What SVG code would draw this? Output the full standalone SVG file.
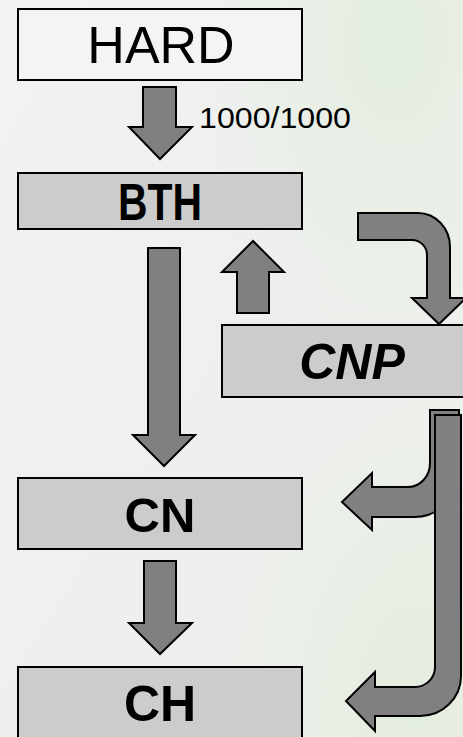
<svg xmlns="http://www.w3.org/2000/svg" width="463" height="737" viewBox="0 0 463 737">
<defs>
<linearGradient id="bg" x1="0" y1="0" x2="1" y2="1">
<stop offset="0" stop-color="#f2f2f2"/>
<stop offset="0.5" stop-color="#eeefee"/>
<stop offset="1" stop-color="#eef1eb"/>
</linearGradient>
<radialGradient id="g1" cx="0.85" cy="0.05" r="0.45">
<stop offset="0" stop-color="#e3eedf" stop-opacity="0.9"/>
<stop offset="1" stop-color="#e3eedf" stop-opacity="0"/>
</radialGradient>
<radialGradient id="g2" cx="0.9" cy="0.95" r="0.4">
<stop offset="0" stop-color="#e2eddd" stop-opacity="0.9"/>
<stop offset="1" stop-color="#e2eddd" stop-opacity="0"/>
</radialGradient>
<style>
.box{stroke:#000;stroke-width:2}
.light{fill:#f4f4f4}
.grey{fill:#cccccc}
.arr{fill:#808080;stroke:#000;stroke-width:2;stroke-linejoin:miter}
.t{font-family:"Liberation Sans",Arial,sans-serif;fill:#000;text-anchor:middle}
</style>
</defs>
<rect width="463" height="737" fill="url(#bg)"/>
<rect width="463" height="737" fill="url(#g1)"/>
<rect width="463" height="737" fill="url(#g2)"/>

<g id="connectors">
<polygon class="arr" points="143,87 176,87 176,127 192,127 160,159 129,127 143,127"/>
<text class="t" x="199" y="128" font-size="29" style="text-anchor:start" textLength="152" lengthAdjust="spacingAndGlyphs">1000/1000</text>
<polygon class="arr" points="148,248 180,248 180,435 195,435 164,466 133,435 148,435"/>
<polygon class="arr" points="144,561 176,561 176,623 192,623 160,654 129,623 144,623"/>
<polygon class="arr" points="237,313 269,313 269,272 284,272 253,241 222,272 237,272"/>
<path class="arr" d="M358,213 H418 A32,34 0 0 1 450,247 V298 H466 L439,324 L412,298 H427 V255 A15,15 0 0 0 412,240 H358 Z"/>
<path class="arr" d="M430,410 H459 V472 A45,45 0 0 1 414,517 H372 V530 L342,502 L372,473 V487 H408 A22,24 0 0 0 430,463 Z"/>
<path class="arr" d="M435,415 H461 V676 A41,40 0 0 1 420,716 H375 V731 L346,701 L375,672 V687 H415 A20,20 0 0 0 435,667 Z"/>
</g>

<g id="hard">
<rect class="box light" x="18" y="9" width="284" height="71"/>
<text class="t" x="161" y="63" font-size="52">HARD</text>
</g>
<g id="bth">
<rect class="box grey" x="18" y="173" width="284" height="56"/>
<text class="t" x="160" y="220" font-size="52" font-weight="bold" textLength="84" lengthAdjust="spacingAndGlyphs">BTH</text>
</g>
<g id="cnp">
<rect class="box grey" x="222" y="325" width="250" height="72"/>
<text class="t" x="352" y="379" font-size="50" font-weight="bold" font-style="italic">CNP</text>
</g>
<g id="cn">
<rect class="box grey" x="18" y="478" width="284" height="71"/>
<text class="t" x="160" y="532" font-size="49" font-weight="bold">CN</text>
</g>
<g id="ch">
<rect class="box grey" x="18" y="667" width="284" height="80"/>
<text class="t" x="160" y="721" font-size="50" font-weight="bold">CH</text>
</g>
</svg>
